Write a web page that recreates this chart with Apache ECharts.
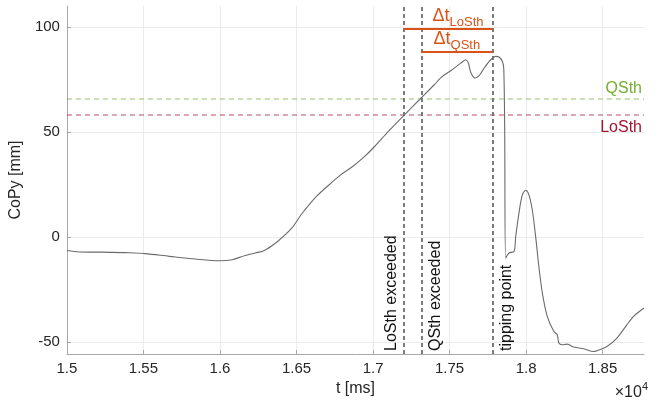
<!DOCTYPE html>
<html>
<head>
<meta charset="utf-8">
<script src="https://cdn.jsdelivr.net/npm/echarts@6/dist/echarts.min.js"></script>
<style>
  html, body { margin: 0; padding: 0; background: #fff; }
  #chart { width: 662px; height: 403px; }
</style>
</head>
<body>
<div id="chart"></div>
<script>
// time stamps [ms] and centre of pressure [mm]
const timeMs = [15000, 15080, 15230, 15410, 15510, 15670, 15840, 16000, 16080, 16160, 16230, 16290,
  16370, 16470, 16530, 16630, 16730, 16790, 16860, 16945, 17010, 17100, 17205, 17314, 17400, 17445,
  17510, 17575, 17607, 17622, 17640, 17667, 17693, 17726, 17769, 17802, 17823, 17845, 17854, 17860,
  17866, 17888, 17921, 17932, 17953, 17975, 17997, 18018, 18040, 18062, 18083, 18106, 18138, 18181,
  18203, 18214, 18236, 18268, 18311, 18376, 18441, 18463, 18528, 18593, 18658, 18702, 18770]
const copY = [-6.4, -7.1, -7.2, -7.5, -7.9, -9.2, -10.5, -11.3, -10.8, -8.9, -7.6, -6.4,
  -2.5, 4.3, 10.6, 19.3, 26.0, 29.7, 33.2, 38.4, 43.1, 50.3, 58.2, 66.2, 72.5, 76.0,
  79.3, 82.9, 84.4, 82.9, 78.1, 75.7, 76.8, 80.5, 84.4, 86.0, 85.7, 83.6, 80.0, 50,
  -10, -7.6, -6.9, 0.3, 11.4, 20.1, 22.2, 20.1, 13, 0.3, -14, -26.7, -37.8, -45,
  -46.5, -50.5, -51.3, -51, -52.4, -53.2, -54.5, -54.1, -52.1, -48.1, -41.8, -37.8, -33.8]

// thresholds and events
const qsth = 66
const losth = 58
const tLoSth = 17200
const tQSth = 17315
const tTip = 17780
const dtLoSthLevel = 99
const dtQSthLevel = 88

const yTicks = [-50, 0, 50, 100]

const FONT = 'Liberation Sans, Arial, Helvetica, sans-serif'
const ORANGE = '#D95319'

const chart = echarts.init(document.getElementById('chart'))

// vertical dashed event line with a rotated label
const eventLine = (x, text, side) => ({
  xAxis: x,
  lineStyle: { color: '#6e6e6e', type: [4, 3], width: 1.8 },
  label: {
    show: true,
    formatter: text,
    position: side === 'left' ? 'insideStartTop' : 'insideStartBottom',
    distance: side === 'left' ? [3, 4] : [3, 6],
    color: '#111',
    fontSize: 16,
    fontFamily: FONT
  }
})

// horizontal delta-t bar
const dtBar = (x0, x1, y, sub, shift) => [
  {
    coord: [x0, y],
    lineStyle: { color: ORANGE, type: 'solid', width: 2 },
    label: {
      show: true,
      position: 'middle',
      distance: 2,
      formatter: '{a|Δt}{b|' + sub + '}',
      rich: {
        a: { fontSize: 18, color: ORANGE, fontFamily: FONT, lineHeight: 20, verticalAlign: 'top', padding: [0, 0, 0, shift] },
        b: { fontSize: 13, color: ORANGE, fontFamily: FONT, lineHeight: 13, padding: [9, 0, 0, 0], verticalAlign: 'top' }
      }
    }
  },
  { coord: [x1, y] }
]

const option = {
  animation: false,
  backgroundColor: '#fff',
  grid: { left: 64, right: 18, top: 6, bottom: 49 },
  xAxis: {
    type: 'value',
    min: 15000,
    max: 18770,
    interval: 500,
    name: 't [ms]',
    nameLocation: 'middle',
    nameGap: 27,
    nameTextStyle: { fontSize: 16, color: '#262626', fontFamily: FONT },
    axisLine: { onZero: false, lineStyle: { color: '#a8a8a8', width: 1 } },
    axisTick: { inside: true, length: 4, lineStyle: { color: '#a8a8a8' } },
    axisLabel: {
      color: '#262626', fontSize: 15, fontFamily: FONT, margin: 7,
      showMaxLabel: false,
      formatter: v => String(+(v / 10000).toFixed(2))
    },
    splitLine: { show: true, showMinLine: false, showMaxLine: false, lineStyle: { color: '#ebebeb', width: 1 } }
  },
  yAxis: {
    type: 'value',
    min: -55.7,
    max: 110,
    name: 'CoPy [mm]',
    nameLocation: 'middle',
    nameGap: 27,
    nameTextStyle: { fontSize: 16, color: '#262626', fontFamily: FONT },
    axisLine: { show: true, onZero: false, lineStyle: { color: '#a8a8a8', width: 1 } },
    axisTick: { show: true, inside: true, length: 4, customValues: yTicks, lineStyle: { color: '#a8a8a8' } },
    axisLabel: { color: '#262626', fontSize: 15, fontFamily: FONT, margin: 7, customValues: yTicks },
    splitLine: { show: true, lineStyle: { color: '#ebebeb', width: 1 } }
  },
  graphic: [{
    type: 'text',
    right: 14,
    bottom: 2,
    style: {
      text: '{m|×10}{e|4}',
      rich: {
        m: { fontSize: 16, fill: '#262626', fontFamily: FONT, lineHeight: 20, verticalAlign: 'bottom', padding: [6, 0, 0, 0] },
        e: { fontSize: 11, fill: '#262626', fontFamily: FONT, lineHeight: 12, verticalAlign: 'top' }
      }
    }
  }],
  series: [{
    type: 'line',
    data: timeMs.map((t, i) => [t, copY[i]]),
    showSymbol: false,
    smooth: 0.3,
    lineStyle: { color: '#6b6b6b', width: 1.1 },
    markLine: {
      silent: true,
      symbol: 'none',
      precision: 3,
      data: [
        {
          yAxis: qsth,
          lineStyle: { color: 'rgba(119,172,48,0.5)', type: [5, 4], width: 1.6 },
          label: { show: true, formatter: 'QSth', position: 'insideEndTop', distance: [2, 2], color: '#77AC30', fontSize: 16, fontFamily: FONT }
        },
        {
          yAxis: losth,
          lineStyle: { color: 'rgba(162,20,47,0.5)', type: [5, 4], width: 1.6 },
          label: { show: true, formatter: 'LoSth', position: 'insideEndBottom', distance: [2, 4], color: '#A2142F', fontSize: 16, fontFamily: FONT }
        },
        eventLine(tLoSth, 'LoSth exceeded', 'left'),
        eventLine(tQSth, 'QSth exceeded', 'right'),
        eventLine(tTip, 'tipping point', 'right'),
        dtBar(tLoSth, tTip, dtLoSthLevel, 'LoSth', 20),
        dtBar(tQSth, tTip, dtQSthLevel, 'QSth', 0)
      ]
    }
  }]
}

chart.setOption(option)
</script>
</body>
</html>
